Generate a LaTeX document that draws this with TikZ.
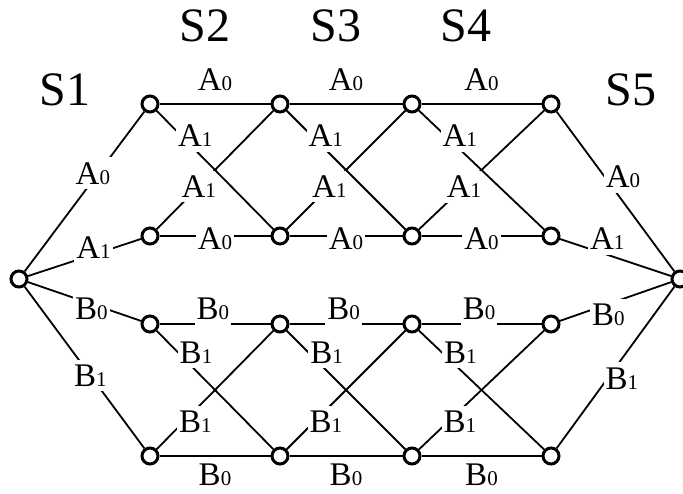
\documentclass[tikz,border=0pt]{standalone}
\usepackage{fontspec}
\setmainfont{Liberation Serif}
\usepackage{tikz}
\newcommand{\lbl}[2]{#1{\fontsize{21pt}{21pt}\selectfont #2}}

\begin{document}
\begin{tikzpicture}[x=1pt, y=-1pt, line width=1.8pt,
  st/.style={circle, draw, fill=white, line width=3pt, minimum size=16pt, inner sep=0pt},
  lab/.style={fill=white, inner xsep=2pt, inner ysep=5pt, font=\fontsize{33pt}{33pt}\selectfont},
  stage/.style={font=\fontsize{48pt}{48pt}\selectfont}]
  \useasboundingbox (0,0) rectangle (683,494);
  % states of the trellis
  \node[st] (l) at (19,279) {};
  \node[st] (r) at (680,279) {};
  \foreach \i/\x in {2/150,3/280,4/412,5/551}{
    \node[st] (at\i) at (\x,104) {};
    \node[st] (ab\i) at (\x,236) {};
    \node[st] (bt\i) at (\x,324) {};
    \node[st] (bb\i) at (\x,456) {};}
  % stage names
  \node[stage] (s1) at (65,90) {S1};
  \node[stage] (s2) at (205,26) {S2};
  \node[stage] (s3) at (336,26) {S3};
  \node[stage] (s4) at (466,26) {S4};
  \node[stage] (s5) at (631,90) {S5};
  % fan out of S1
  \draw (l) -- node[lab, pos=0.57, yshift=7pt] {\lbl{A}{0}} (at2);
  \draw (l) -- node[lab, pos=0.58, yshift=7pt] {\lbl{A}{1}} (ab2);
  \draw (l) -- node[lab, pos=0.56, yshift=-5pt] {\lbl{B}{0}} (bt2);
  \draw (l) -- node[lab, pos=0.55] {\lbl{B}{1}} (bb2);
  % fan into S5
  \draw (at5) -- node[lab, pos=0.47, xshift=11pt, yshift=10pt] {\lbl{A}{0}} (r);
  \draw (ab5) -- node[lab, pos=0.38, xshift=5pt, yshift=14pt] {\lbl{A}{1}} (r);
  \draw (bt5) -- node[lab, pos=0.39, xshift=5pt, yshift=-9pt] {\lbl{B}{0}} (r);
  \draw (bb5) -- node[lab, pos=0.47, xshift=10pt, yshift=-6pt] {\lbl{B}{1}} (r);
  % butterflies between stages
  \foreach \i/\j in {2/3,3/4,4/5}{
    \draw (at\i) -- node[lab, yshift=24pt] {\lbl{A}{0}} (at\j);
    \draw (ab\i) -- node[lab, yshift=-3pt] {\lbl{A}{0}} (ab\j);
    \draw (ab\i) -- node[lab, pos=0.36] {\lbl{A}{1}} (at\j);
    \draw (at\i) -- node[lab, pos=0.27, xshift=7pt, yshift=7pt] {\lbl{A}{1}} (ab\j);
    \draw (bt\i) -- node[lab, pos=0.48, yshift=15pt] {\lbl{B}{0}} (bt\j);
    \draw (bb\i) -- node[lab, yshift=-19pt] {\lbl{B}{0}} (bb\j);
    \draw (bb\i) -- node[lab, pos=0.28, xshift=6pt, yshift=-6pt] {\lbl{B}{1}} (bt\j);
    \draw (bt\i) -- node[lab, pos=0.26, xshift=9pt, yshift=9pt] {\lbl{B}{1}} (bb\j);}
\end{tikzpicture}
\end{document}
